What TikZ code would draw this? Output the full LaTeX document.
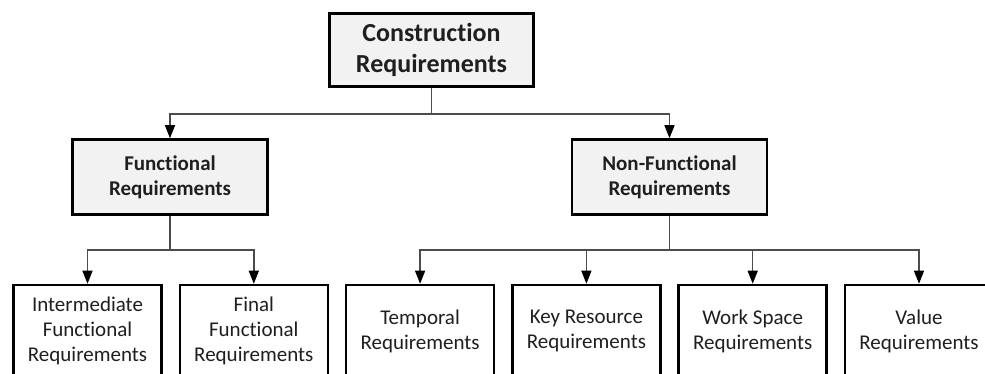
\documentclass[tikz,border=0pt]{standalone}
\usepackage{fontspec}
\setmainfont{Carlito}[RawFeature={-liga;-dlig;-clig;-calt;-hlig}]
\usetikzlibrary{arrows.meta}
\begin{document}
\begin{tikzpicture}[x=1pt,y=-1pt,
  box/.style={draw=black, line width=2.6pt, align=center, inner sep=0pt, text=black!88},
  rootbox/.style={box, fill=black!5, minimum width=204pt, minimum height=73pt,
    font=\fontsize{26}{31}\selectfont\bfseries},
  midbox/.style={box, fill=black!5, minimum width=195pt, minimum height=75pt,
    font=\fontsize{21}{25}\selectfont\bfseries},
  leafbox/.style={box, fill=white, minimum width=148pt, minimum height=92pt,
    font=\fontsize{21}{25}\selectfont},
  conn/.style={draw=black!70, line width=1.4pt},
  arr/.style={conn, -{Triangle[length=13pt,width=10pt,color=black]}}
]
\useasboundingbox (0,0) rectangle (985,373);
\fill[white] (0,0) rectangle (985,373);
\clip (0,0) rectangle (985,373);

% top level
\node[rootbox] (root) at (431.5,50) {Construction\\Requirements};

% second level
\node[midbox] (func) at (170,177) {Functional\\Requirements};
\node[midbox] (nonfunc) at (669.5,177) {Non-Functional\\Requirements};

% leaves
\node[leafbox] (inter) at (87.5,331) {Intermediate\\Functional\\Requirements};
\node[leafbox] (final) at (253.8,331) {Final\\Functional\\Requirements};
\node[leafbox] (temporal) at (420.1,331) {Temporal\\Requirements};
\node[leafbox] (keyres) at (586.4,331) {Key Resource\\Requirements};
\node[leafbox] (workspace) at (752.7,331) {Work Space\\Requirements};
\node[leafbox] (value) at (919,331) {Value\\Requirements};

% bus junctions
\coordinate (bus0) at (431.5,114);
\coordinate (bus1) at (170,250);
\coordinate (bus2) at (669.5,250);

% connectors
\draw[arr] (root.south) -- (bus0) -| (func.north);
\draw[arr] (root.south) -- (bus0) -| (nonfunc.north);

\draw[arr] (func.south) -- (bus1) -| (inter.north);
\draw[arr] (func.south) -- (bus1) -| (final.north);

\draw[arr] (nonfunc.south) -- (bus2) -| (temporal.north);
\draw[arr] (nonfunc.south) -- (bus2) -| (keyres.north);
\draw[arr] (nonfunc.south) -- (bus2) -| (workspace.north);
\draw[arr] (nonfunc.south) -- (bus2) -| (value.north);
\end{tikzpicture}
\end{document}
